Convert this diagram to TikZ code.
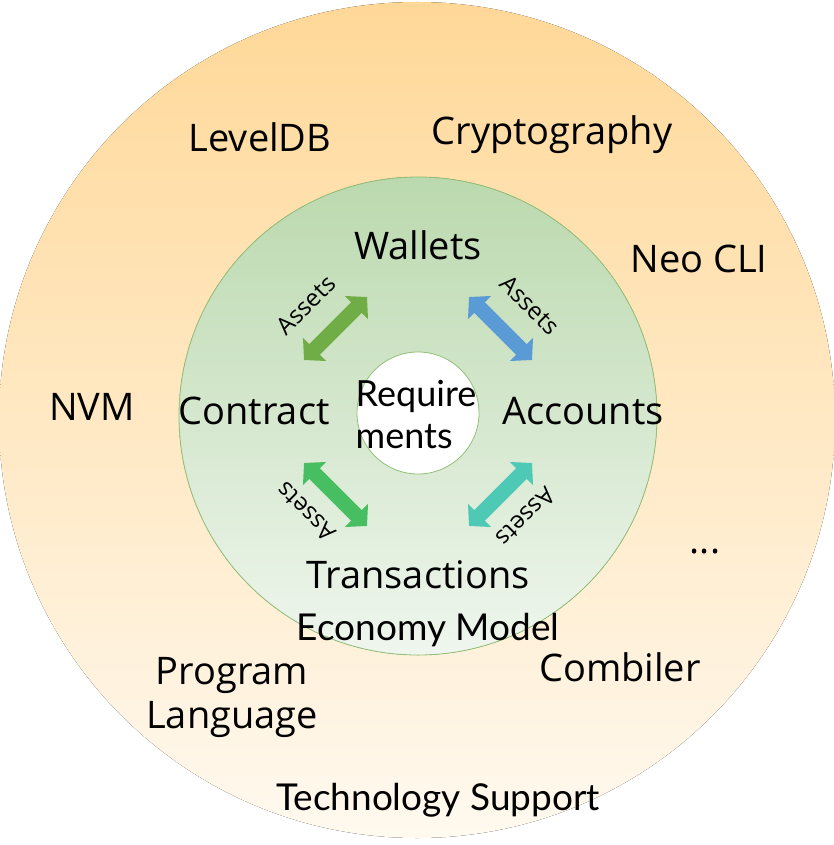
\documentclass[tikz,border=0pt]{standalone}
\usepackage{fontspec}
\setmainfont{Open Sans}
\newfontfamily\candara{Lato}
\usetikzlibrary{arrows.meta}
\definecolor{outtop}{HTML}{FFD898}
\definecolor{outbot}{HTML}{FFF9EF}
\definecolor{intop}{HTML}{BBD9AE}
\definecolor{inbot}{HTML}{EFF6EE}
\definecolor{inedge}{HTML}{93BF78}
\definecolor{agreen}{HTML}{70AD47}
\definecolor{ablue}{HTML}{5B9BD5}
\definecolor{agreen2}{HTML}{48BE62}
\definecolor{ateal}{HTML}{4EC9B5}
\begin{document}
\begin{tikzpicture}[x=1pt,y=-1pt,
  lbl/.style={font=\fontsize{38}{44}\selectfont, inner sep=0pt},
  clbl/.style={font=\candara\fontsize{37}{42}\selectfont, inner sep=0pt},
  assets/.style={font=\fontsize{24}{26}\selectfont, inner sep=0pt},
  dblarrow/.style={line width=15pt, {Triangle[length=15pt,width=32pt]}-{Triangle[length=15pt,width=32pt]}, shorten >=0pt, shorten <=0pt}]
\useasboundingbox (0,0) rectangle (834,845);
\fill[top color=outtop, bottom color=outbot] (417,420) circle (418);
\fill[top color=intop, bottom color=inbot] (418,416) circle (239);
\draw[inedge, line width=0.8pt] (418,416) circle (239);
\fill[white] (418,413) circle (61);
\draw[inedge, line width=0.8pt] (418,413) circle (61);

% arrow end points
\coordinate (tl1) at (304,360); \coordinate (tl2) at (367,297);
\coordinate (tr1) at (469,297); \coordinate (tr2) at (532,360);
\coordinate (bl1) at (304,463); \coordinate (bl2) at (367,526);
\coordinate (br1) at (469,526); \coordinate (br2) at (532,463);
\draw[dblarrow, agreen] (tl1) -- (tl2);
\draw[dblarrow, ablue] (tr1) -- (tr2);
\draw[dblarrow, agreen2] (bl1) -- (bl2);
\draw[dblarrow, ateal] (br1) -- (br2);

\node[assets, rotate=45] (a1) at (306,305) {Assets};
\node[assets, rotate=-45] (a2) at (530,305) {Assets};
\node[assets, rotate=135] (a3) at (306,512) {Assets};
\node[assets, rotate=225] (a4) at (526,517) {Assets};

\node[lbl] (leveldb) at (260,137) {LevelDB};
\node[lbl] (crypto) at (552,135) {Cryptography};
\node[lbl] (neocli) at (699,259) {Neo CLI};
\node[lbl] (wallets) at (418,245) {Wallets};
\node[lbl] (nvm) at (92,407) {NVM};
\node[lbl] (contract) at (254,411) {Contract};
\node[lbl] (accounts) at (583,411) {Accounts};
\node[lbl] (dots) at (705,552) {...};
\node[lbl] (trans) at (418,575) {Transactions};
\node[lbl] (combiler) at (620,667) {Combiler};
\node[lbl, align=center] (prog) at (232,697) {Program\\Language};
\node[clbl, align=left, font=\candara\fontsize{36}{42}\selectfont] (req) at (416,415) {Require\\ments};
\node[clbl] (econ) at (428,630) {Economy Model};
\node[clbl] (tech) at (438,800) {Technology Support};
\end{tikzpicture}
\end{document}
